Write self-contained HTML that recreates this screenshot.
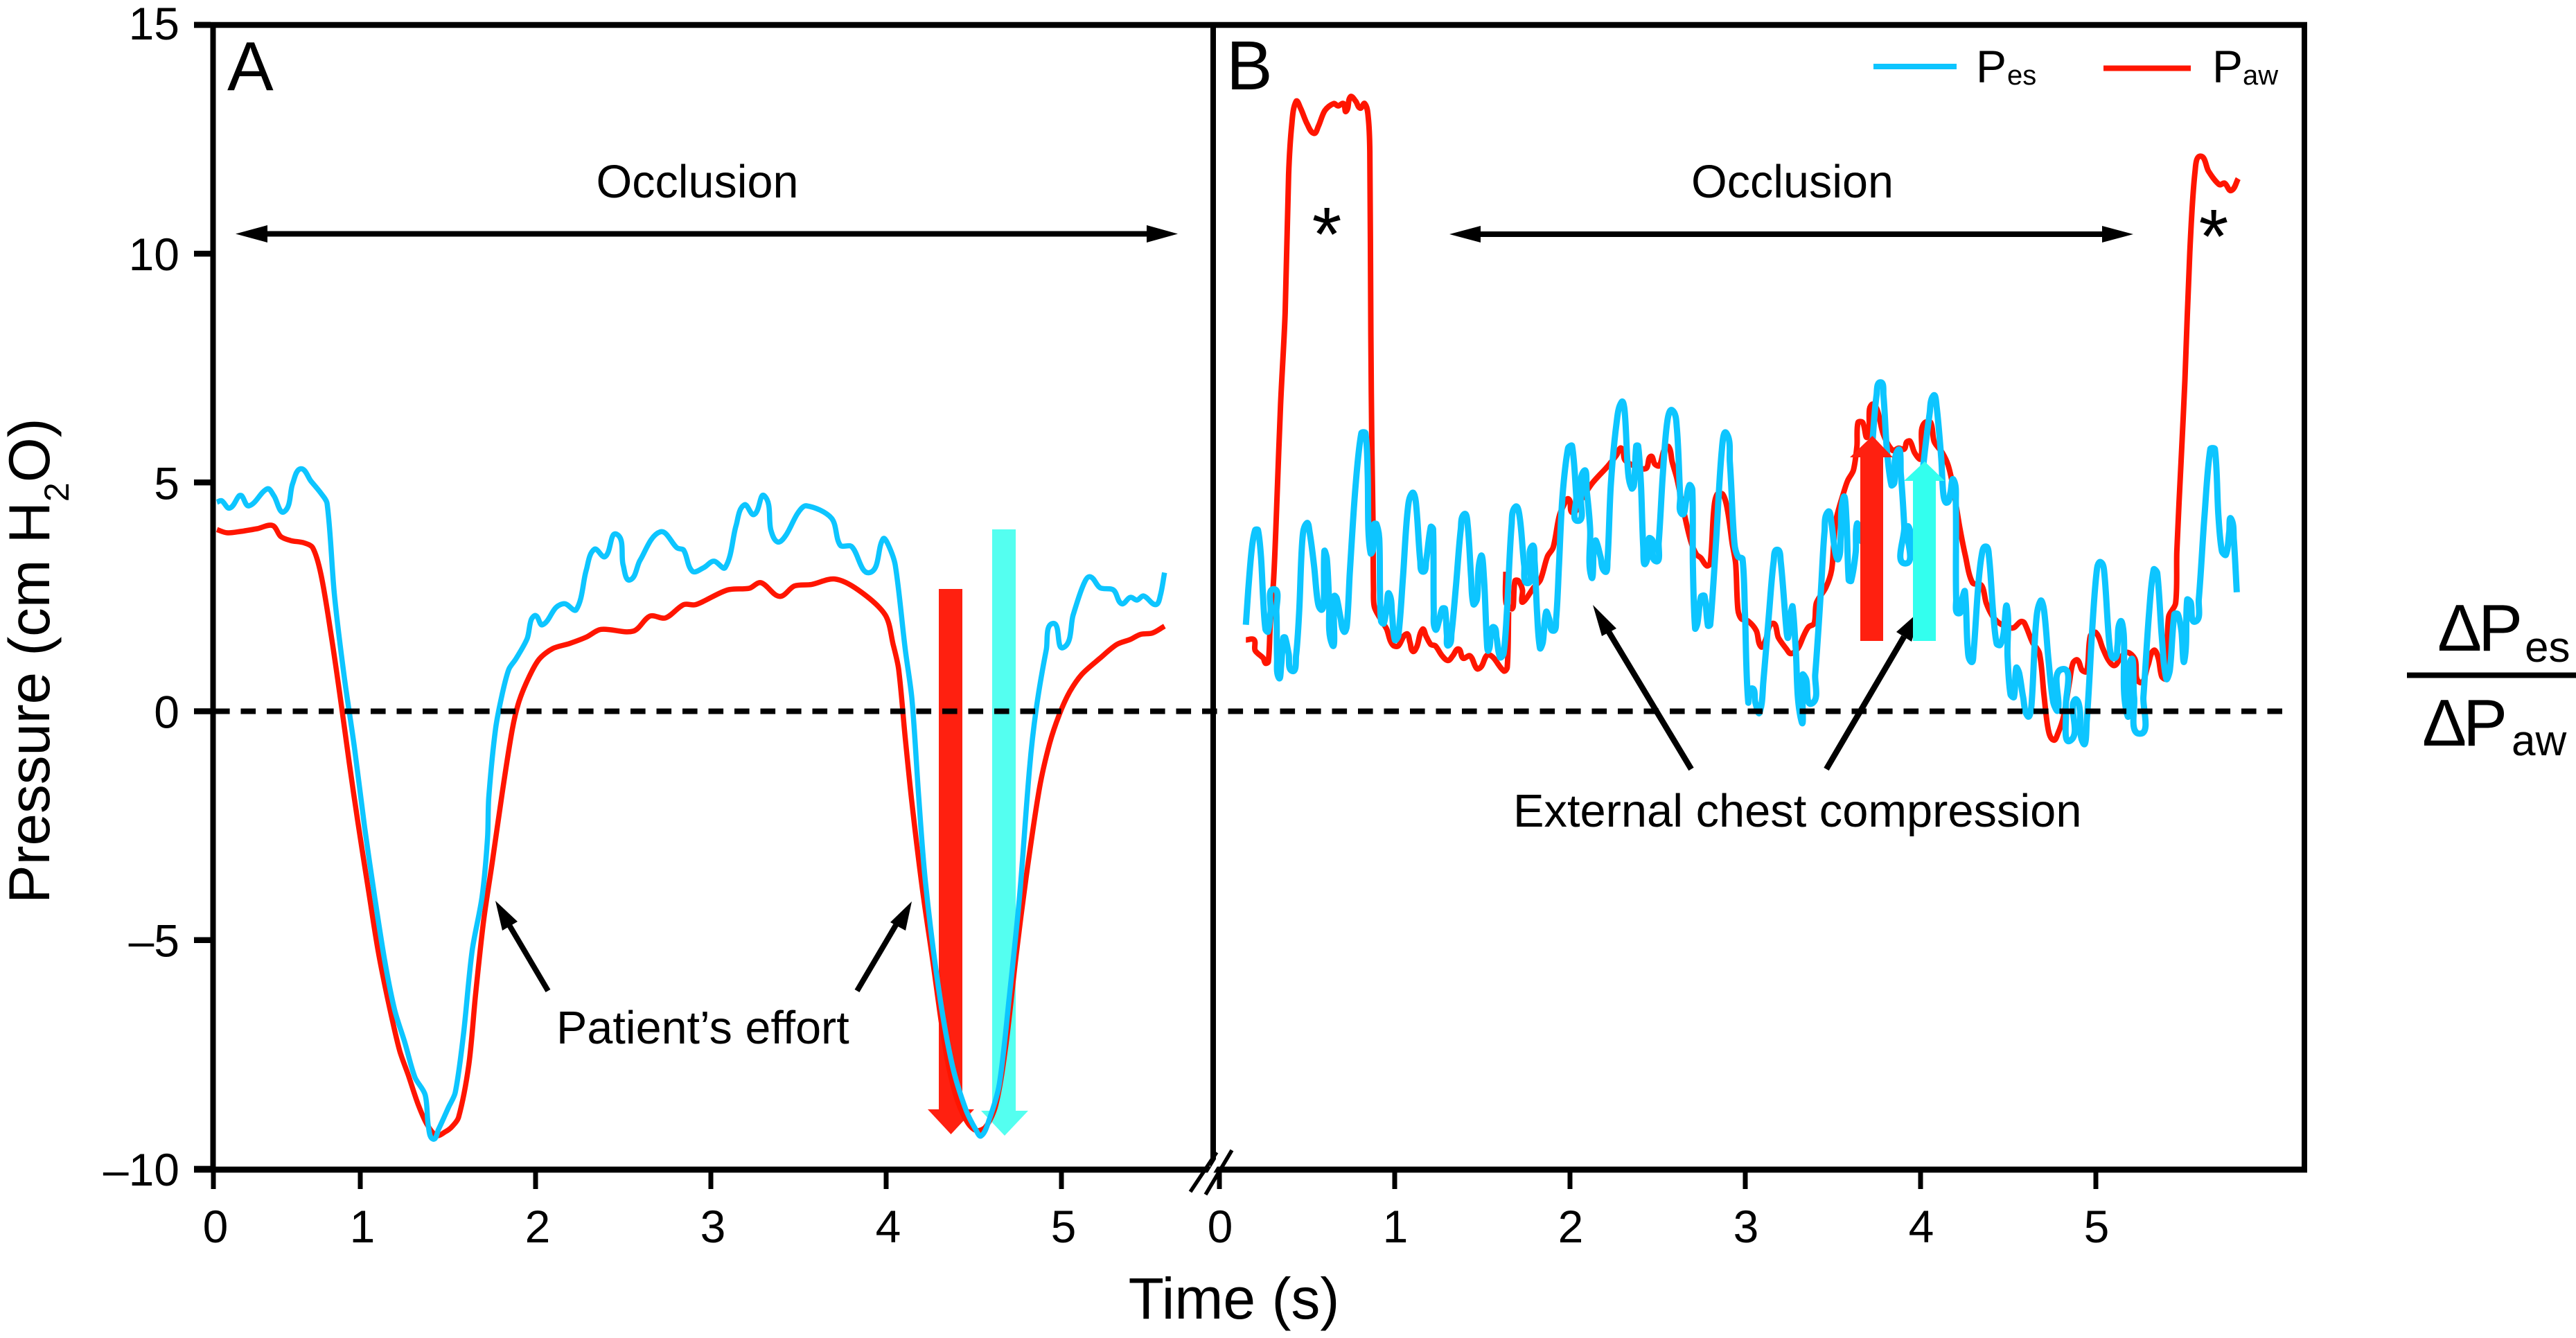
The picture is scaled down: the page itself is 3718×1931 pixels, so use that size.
<!DOCTYPE html>
<html lang="en">
<head>
<meta charset="utf-8">
<title>Pressure traces during occlusion</title>
<style>
html,body{margin:0;padding:0;background:#fff}
svg{display:block}
text{font-family:"Liberation Sans",sans-serif;fill:#000}
</style>
</head>
<body>
<svg id="chart" xmlns="http://www.w3.org/2000/svg" width="3718" height="1931" viewBox="0 0 3718 1931">
<rect x="0" y="0" width="3718" height="1931" fill="#fff"/>

<g id="arrowsA">
<polygon fill="#ff2010" points="1355,850 1389,850 1389,1601 1406,1601 1372.5,1637 1339,1601 1355,1601"/>
<polygon fill="#54fff0" points="1432,764 1466,764 1466,1603 1484,1603 1450,1639 1416,1603 1432,1603"/>
</g>
<g id="seriesA"></g>
<g id="seriesB"></g>
<line id="zeroLine" stroke="#000" stroke-width="8" stroke-dasharray="21.6 15.9"/>

<g>
<g>
<line x1="380" y1="337.5" x2="1660" y2="337.5" stroke="#000" stroke-width="8"/>
<polygon points="340,337.5 386,325 386,350" fill="#000"/>
<polygon points="1700,337.5 1655,325 1655,350" fill="#000"/>
</g>
<g>
<line x1="2130" y1="338" x2="3040" y2="338" stroke="#000" stroke-width="8"/>
<polygon points="2092,338 2137,326 2137,350" fill="#000"/>
<polygon points="3079,338 3034,326 3034,350" fill="#000"/>
</g>
<text x="1006.5" y="285" font-size="66.5" text-anchor="middle">Occlusion</text>
<text x="2587" y="285" font-size="66.5" text-anchor="middle">Occlusion</text>
<text x="803" y="1506" font-size="66.5">Patient’s effort</text>
<g>
<line x1="791" y1="1430" x2="732" y2="1330" stroke="#000" stroke-width="8"/>
<polygon points="715,1300 725,1343 747,1330" fill="#000"/>
</g>
<g>
<line x1="1237" y1="1430" x2="1296" y2="1330" stroke="#000" stroke-width="8"/>
<polygon points="1316,1301 1285,1331 1307,1343" fill="#000"/>
</g>
<text x="2184" y="1193" font-size="66.8">External chest compression</text>
<g>
<line x1="2441" y1="1110" x2="2322" y2="912" stroke="#000" stroke-width="8.5"/>
<polygon points="2299,873 2312,918 2333,907" fill="#000"/>
</g>
<g>
<line x1="2636" y1="1110" x2="2748" y2="919" stroke="#000" stroke-width="8.5"/>
<polygon points="2773,880 2737,912 2759,926" fill="#000"/>
</g>
<text x="1915" y="376" font-size="110" text-anchor="middle">*</text>
<text x="3195" y="379" font-size="110" text-anchor="middle">*</text>
</g>

<g id="arrowsB">
<polygon fill="#ff2010" points="2685,925 2718,925 2718,660 2732,660 2702.5,629 2670,660 2685,660"/>
<polygon fill="#33ffee" points="2761,925 2794,925 2794,694 2807,694 2778,666 2748,694 2761,694"/>
</g>

<g stroke="#000" fill="none">
<line x1="307.5" y1="36" x2="307.5" y2="1692" stroke-width="8"/>
<line x1="280" y1="36" x2="3330" y2="36" stroke-width="8.5"/>
<line x1="280" y1="1688" x2="3330" y2="1688" stroke-width="8.7"/>
<line x1="3326" y1="36" x2="3326" y2="1692" stroke-width="8"/>
<line x1="1751" y1="36" x2="1751" y2="1688" stroke-width="8"/>
</g>
<g id="axes"></g>

<g>
<line x1="1767" y1="1660" x2="1728" y2="1724" stroke="#fff" stroke-width="7"/>
<line x1="1756" y1="1663" x2="1718" y2="1720" stroke="#000" stroke-width="5.5"/>
<line x1="1778" y1="1660" x2="1740" y2="1724" stroke="#000" stroke-width="5.5"/>
</g>

<text x="328" y="130" font-size="100">A</text>
<text x="1770" y="129" font-size="100">B</text>

<g>
<g>
<line x1="2704" y1="96" x2="2824" y2="96" stroke="#0dc5ff" stroke-width="8"/>
<text x="2852" y="118.5" font-size="66">P<tspan x="2897" y="122" font-size="40">es</tspan></text>
</g>
<g>
<line x1="3036" y1="98.5" x2="3162" y2="98.5" stroke="#ff1500" stroke-width="8"/>
<text x="3193" y="118.5" font-size="66">P<tspan x="3237" y="122" font-size="40">aw</tspan></text>
</g>
</g>

<text transform="translate(71,1304) rotate(-90)" font-size="83.5">Pressure (cm H<tspan dy="28" font-size="50">2</tspan><tspan dy="-28">O)</tspan></text>
<text x="1781" y="1903" font-size="84" text-anchor="middle">Time (s)</text>

<g>
<text font-size="96"><tspan x="3518" y="939">Δ</tspan><tspan x="3577" y="939">P</tspan><tspan x="3644" y="955" font-size="62">es</tspan></text>
<line x1="3474" y1="974.5" x2="3718" y2="974.5" stroke="#000" stroke-width="8"/>
<text font-size="96"><tspan x="3496" y="1076">Δ</tspan><tspan x="3555" y="1076">P</tspan><tspan x="3625" y="1090" font-size="62">aw</tspan></text>
</g>
</svg>

<script>
const yTickValues = [15, 10, 5, 0, -5, -10];
const yTickLabels = ["15", "10", "5", "0", "–5", "–10"];
const xTickValues = [0, 1, 2, 3, 4, 5];
const xTickLabels = ["0", "1", "2", "3", "4", "5"];

const panelATimesPes = [.024,.056,.111,.175,.193,.243,.367,.412,.481,.54,.595,.664,.733,.774,.824,.893,.961,1.025,1.082,1.14,1.197,1.255,1.312,1.37,1.389,1.416,1.446,1.504,1.542,1.588,1.638,1.695,1.726,1.733,1.772,1.81,1.848,1.887,1.952,1.975,2.002,2.04,2.117,2.167,2.232,2.289,2.335,2.397,2.462,2.5,2.538,2.596,2.711,2.807,2.845,2.895,2.96,3.017,3.082,3.144,3.19,3.247,3.305,3.343,3.381,3.427,3.496,3.546,3.688,3.738,3.803,3.906,3.983,4.013,4.052,4.109,4.147,4.186,4.224,4.301,4.377,4.454,4.511,4.542,4.588,4.645,4.703,4.761,4.818,4.856,4.914,4.952,5.01,5.067,5.125,5.163,5.22,5.297,5.343,5.393,5.431,5.469,5.538,5.565,5.588];
const panelAPes = [4.57,4.6,4.44,4.71,4.71,4.49,4.86,4.71,4.36,4.98,5.3,5.03,4.76,4.54,2.54,.7,-.81,-2.54,-4.05,-5.46,-6.54,-7.25,-8,-8.38,-9.08,-9.35,-9.14,-8.65,-8.33,-7.08,-5.24,-4.05,-2.76,-1.89,-.38,.38,.92,1.14,1.59,2,2.09,1.89,2.27,2.35,2.22,3.08,3.54,3.38,3.87,3.19,2.87,3.3,3.92,3.57,3.52,3.06,3.14,3.28,3.14,4.06,4.51,4.3,4.71,3.95,3.7,3.84,4.33,4.49,4.22,3.63,3.6,3.03,3.77,3.63,3.19,1.35,.27,-1.89,-3.73,-6.11,-7.73,-8.7,-9.14,-9.28,-8.92,-8.16,-6.22,-4.05,-1.24,.05,1.35,1.92,1.39,2.11,2.76,2.94,2.7,2.65,2.35,2.49,2.43,2.52,2.33,2.54,3.03];

const panelATimesPaw = [.024,.092,.184,.298,.403,.458,.527,.618,.677,.733,.801,.87,.925,.984,1.044,1.102,1.159,1.224,1.274,1.331,1.381,1.435,1.485,1.523,1.561,1.619,1.657,1.703,1.753,1.81,1.868,1.906,1.964,2.021,2.098,2.193,2.289,2.374,2.557,2.653,2.741,2.845,2.914,3.094,3.22,3.285,3.392,3.477,3.573,3.707,3.841,3.994,4.04,4.071,4.109,4.147,4.205,4.262,4.339,4.396,4.454,4.511,4.568,4.626,4.683,4.741,4.799,4.875,4.933,4.99,5.048,5.117,5.22,5.316,5.393,5.45,5.519,5.588];
const panelAPaw = [3.97,3.9,3.93,3.99,4.06,3.82,3.73,3.68,3.57,2.98,1.68,.16,-1.13,-2.43,-3.84,-5.24,-6.33,-7.41,-7.95,-8.6,-9.03,-9.27,-9.19,-9.08,-8.87,-7.73,-6.22,-4.59,-3.3,-1.78,-.38,.22,.76,1.14,1.37,1.48,1.62,1.79,1.75,2.08,2.04,2.33,2.33,2.65,2.69,2.81,2.51,2.74,2.77,2.89,2.65,2.11,1.46,.92,-.59,-2,-3.84,-5.35,-7.41,-8.38,-8.92,-9.16,-9.08,-8.6,-7.3,-5.35,-3.62,-1.67,-.7,-.05,.43,.81,1.16,1.46,1.57,1.68,1.71,1.86];

const panelBTimesPes = [.151,.165,.184,.204,.22,.237,.25,.263,.277,.292,.31,.325,.329,.339,.352,.365,.375,.395,.416,.437,.455,.474,.498,.514,.54,.56,.58,.595,.599,.613,.626,.643,.653,.656,.669,.692,.711,.727,.744,.777,.81,.833,.846,.85,.863,.876,.883,.896,.912,.916,.922,.938,.955,.968,.985,1.001,1.021,1.047,1.074,1.1,1.12,1.146,1.162,1.179,1.206,1.219,1.223,1.232,1.252,1.271,1.287,1.298,1.307,1.324,1.35,1.377,1.397,1.416,1.436,1.449,1.469,1.491,1.509,1.526,1.535,1.548,1.565,1.581,1.601,1.621,1.64,1.667,1.689,1.713,1.739,1.759,1.772,1.783,1.798,1.812,1.829,1.845,1.864,1.881,1.904,1.921,1.937,1.957,1.989,2.012,2.036,2.045,2.062,2.079,2.095,2.115,2.121,2.137,2.148,2.174,2.2,2.214,2.233,2.266,2.295,2.312,2.332,2.352,2.365,2.378,2.389,2.405,2.418,2.431,2.451,2.471,2.49,2.506,2.53,2.556,2.583,2.609,2.629,2.639,2.662,2.681,2.698,2.701,2.714,2.727,2.747,2.767,2.787,2.8,2.833,2.866,2.892,2.912,2.938,2.958,2.984,2.998,3.017,3.037,3.057,3.081,3.103,3.136,3.162,3.182,3.202,3.235,3.244,3.261,3.27,3.287,3.32,3.327,3.347,3.38,3.399,3.432,3.452,3.472,3.492,3.511,3.531,3.544,3.56,3.577,3.59,3.604,3.63,3.637,3.65,3.689,3.729,3.749,3.771,3.788,3.808,3.834,3.85,3.87,3.887,3.907,3.913,3.926,3.953,3.98,4.006,4.052,4.074,4.091,4.118,4.131,4.151,4.17,4.188,4.201,4.203,4.217,4.236,4.253,4.269,4.289,4.302,4.328,4.348,4.371,4.39,4.414,4.434,4.454,4.473,4.493,4.496,4.513,4.533,4.546,4.562,4.585,4.612,4.632,4.658,4.684,4.704,4.73,4.757,4.783,4.809,4.829,4.855,4.869,4.888,4.908,4.928,4.948,4.981,5.007,5.027,5.047,5.08,5.106,5.123,5.139,5.159,5.178,5.198,5.218,5.251,5.271,5.304,5.33,5.35,5.376,5.402,5.422,5.448,5.468,5.488,5.505,5.521,5.541,5.567,5.587,5.62,5.653,5.679,5.699,5.719,5.742,5.761,5.771,5.787,5.804];
const panelBPes = [1.89,2.67,3.53,3.96,3.96,3.38,2.42,1.79,1.74,2.17,2.67,2.17,1.16,.73,1,1.61,1.61,1.26,.88,1.21,2.17,3.78,4.11,3.93,3.18,2.42,2.22,2.32,3.5,3.33,2.42,1.46,2.17,2.52,2.47,2.02,1.74,1.87,3.03,4.94,6.08,6.08,5.2,3.98,3.45,3.53,4.09,4.09,3.78,2.67,1.97,1.92,2.32,2.57,2.12,1.56,1.66,2.92,4.39,4.77,4.59,3.28,3.05,3.28,4.03,3.98,2.17,1.79,1.97,2.24,2.24,1.66,1.44,1.71,2.77,3.98,4.31,4.09,2.92,2.34,2.45,3.38,2.92,1.51,1.33,1.66,1.84,1.61,1.18,1.26,2.17,4.09,4.47,4.24,3.18,2.8,3.18,3.61,3.28,2.17,1.38,1.51,2.17,2.02,1.76,2.02,3.18,4.69,5.75,5.8,4.69,4.16,4.69,5.25,4.84,3.98,2.95,3.68,3.73,3.38,3.05,3.28,4.94,6.31,6.76,6.56,5.2,4.87,4.94,5.8,5.8,4.94,3.58,3.23,3.78,3.73,3.28,3.68,5.2,6.36,6.58,6.21,4.69,4.31,4.59,4.94,4.84,3.18,1.81,1.92,2.5,2.52,1.87,1.89,3.68,5.7,6.08,5.45,3.68,3.38,3.33,2.17,.2,.5,.2,-.03,.65,2.17,3.28,3.53,3.28,1.76,1.61,2.17,2.29,1.41,-.21,.8,.7,.17,.8,2.67,3.93,4.36,4.09,3.53,3.33,3.78,4.67,4.19,2.87,2.85,3.48,4.09,3.78,3.68,6.05,6.91,7.19,6.91,5.7,4.94,4.99,5.7,5.2,4.03,3.23,4.03,3.78,3.4,4.98,6.52,6.9,6.68,5.52,4.72,4.56,4.77,5.06,4.56,2.44,2.14,2.44,2.62,1.37,1.08,1.27,2.7,3.39,3.6,3.39,2.17,1.48,1.45,1.69,2.28,1.21,.37,.31,.95,.84,.31,-.11,.1,1.9,2.41,2.22,1.11,.2,.02,.92,.05,-.64,.15,.26,.05,-.7,-.22,1.9,3.13,3.26,3.07,1.37,1.16,1.43,1.96,1.69,-.06,1.11,.31,-.49,.31,2.17,3.1,3.02,1.64,.71,.9,2.12,2.12,1.75,1.11,2.44,2.38,1.96,2.44,4.29,5.73,5.73,4.29,3.5,3.42,3.92,4.21,3.76,2.6];

const panelBTimesPaw = [.151,.198,.204,.25,.263,.279,.29,.31,.329,.349,.375,.395,.413,.438,.463,.501,.539,.564,.602,.652,.677,.708,.723,.748,.778,.803,.829,.849,.858,.864,.87,.876,.879,.885,.935,.955,.975,.995,1.021,1.067,1.087,1.104,1.126,1.159,1.179,1.206,1.232,1.271,1.304,1.331,1.364,1.39,1.43,1.469,1.495,1.528,1.561,1.623,1.642,1.65,null,1.634,1.635,1.667,1.676,1.686,1.706,1.729,1.726,1.746,1.792,1.831,1.871,1.904,1.937,1.963,1.992,2.016,2.06,2.128,2.214,2.266,2.293,2.312,2.345,2.411,2.438,2.461,2.484,2.51,2.536,2.563,2.583,2.609,2.648,2.688,2.721,2.747,2.78,2.8,2.82,2.839,2.872,2.899,2.925,2.945,2.958,2.978,3.017,3.063,3.09,3.116,3.156,3.189,3.235,3.261,3.301,3.334,3.36,3.393,3.406,3.459,3.492,3.505,3.518,3.558,3.584,3.617,3.637,3.643,3.67,3.696,3.709,3.729,3.755,3.788,3.841,3.874,3.907,3.92,3.94,3.966,4,4.006,4.025,4.058,4.078,4.124,4.157,4.184,4.223,4.256,4.296,4.348,4.375,4.414,4.46,4.526,4.572,4.592,4.638,4.678,4.704,4.73,4.759,4.783,4.816,4.849,4.869,4.895,4.921,4.948,4.968,5,5.04,5.073,5.106,5.139,5.178,5.224,5.251,5.297,5.33,5.356,5.376,5.402,5.415,5.455,5.462,5.488,5.508,5.536,5.566,5.597,5.643,5.704,5.735,5.772,5.812];
const panelBPaw = [1.56,1.56,1.33,1.16,1.05,1.08,1.91,2.92,4.69,6.71,8.71,11.73,12.83,13.33,13.18,12.83,12.63,12.78,13.13,13.28,13.23,13.28,13.11,13.43,13.33,13.18,13.28,12.98,12.23,8.21,5.7,4.19,2.67,2.27,1.92,1.79,1.54,1.43,1.43,1.69,1.51,1.31,1.41,1.79,1.64,1.46,1.43,1.21,1.11,1.21,1.36,1.16,1.21,.93,.98,1.23,1.18,.88,.96,2.17,null,3.05,2.37,2.24,2.29,2.85,2.85,2.65,2.39,2.44,2.7,2.87,3.38,3.58,4.24,4.49,4.64,4.34,4.6,4.99,5.35,5.6,5.75,5.5,5.4,5.3,5.32,5.57,5.4,5.37,5.7,5.78,5.45,5.1,4.39,3.73,3.43,3.35,3.18,3.23,4.39,4.74,4.74,4.39,3.68,3.23,2.22,2.02,1.97,1.76,1.41,1.56,1.92,1.61,1.36,1.26,1.38,1.66,1.84,1.92,2.37,2.7,3.08,3.68,4.19,4.74,5.04,5.27,5.8,6.31,6.31,6,6.61,6.71,6.56,6.05,5.7,5.75,5.73,5.88,5.9,5.65,5.52,6.15,6.31,6.31,5.89,5.65,5.38,4.93,4.03,3.39,2.81,2.75,2.36,2.06,1.9,1.82,1.96,1.93,1.51,1.27,.36,-.43,-.63,-.49,-.11,.63,1.05,1.12,.9,.87,1.64,1.72,1.37,1.11,1,1.16,1.29,1.13,.63,1,1.33,1.16,.76,.71,2.06,2.36,3.5,5.62,7.22,10.03,11.8,12.13,11.8,11.51,11.54,11.38,11.64];

const SVG_NS = "http://www.w3.org/2000/svg";
const yPx = v => 1026.5 - 66.04 * v;
const xA = t => t < 1 ? 308 + 212 * t : 520 + 253 * (t - 1);
const xB = t => 1760 + 253 * t;

function splinePath(pts) {
  let d = "M" + pts[0][0].toFixed(1) + " " + pts[0][1].toFixed(1);
  for (let i = 0; i < pts.length - 1; i++) {
    const p0 = pts[Math.max(i - 1, 0)], p1 = pts[i], p2 = pts[i + 1], p3 = pts[Math.min(i + 2, pts.length - 1)];
    const seg = Math.hypot(p2[0] - p1[0], p2[1] - p1[1]);
    const n1 = Math.hypot(p2[0] - p0[0], p2[1] - p0[1]) || 1;
    const n2 = Math.hypot(p3[0] - p1[0], p3[1] - p1[1]) || 1;
    const k = 0.3 * seg;
    const c1x = p1[0] + (p2[0] - p0[0]) / n1 * k, c1y = p1[1] + (p2[1] - p0[1]) / n1 * k;
    const c2x = p2[0] - (p3[0] - p1[0]) / n2 * k, c2y = p2[1] - (p3[1] - p1[1]) / n2 * k;
    d += "C" + c1x.toFixed(1) + " " + c1y.toFixed(1) + " " + c2x.toFixed(1) + " " + c2y.toFixed(1) + " " + p2[0].toFixed(1) + " " + p2[1].toFixed(1);
  }
  return d;
}

function seriesPath(times, values, xScale) {
  let d = "", run = [];
  times.forEach((t, i) => {
    if (t === null || values[i] === null) {
      if (run.length > 1) d += splinePath(run);
      run = [];
    } else {
      run.push([xScale(t), yPx(values[i])]);
    }
  });
  if (run.length > 1) d += splinePath(run);
  return d;
}

function drawLine(group, times, values, xScale, color, width, name) {
  const path = document.createElementNS(SVG_NS, "path");
  path.setAttribute("d", seriesPath(times, values, xScale));
  path.setAttribute("fill", "none");
  path.setAttribute("stroke", color);
  path.setAttribute("stroke-width", width);
  path.setAttribute("stroke-linejoin", "round");
  
  
  group.appendChild(path);
}

const groupA = document.getElementById("seriesA");
const groupB = document.getElementById("seriesB");
drawLine(groupA, panelATimesPaw, panelAPaw, xA, "#ff1500", 7.5, "panel-a-paw-line");
drawLine(groupA, panelATimesPes, panelAPes, xA, "#0dc5ff", 7.5, "panel-a-pes-line");
drawLine(groupB, panelBTimesPaw, panelBPaw, xB, "#ff1500", 8, "panel-b-paw-line");
drawLine(groupB, panelBTimesPes, panelBPes, xB, "#0dc5ff", 9, "panel-b-pes-line");

const zero = document.getElementById("zeroLine");
zero.setAttribute("x1", 310);
zero.setAttribute("x2", 3294);
zero.setAttribute("y1", yPx(0));
zero.setAttribute("y2", yPx(0));

const axes = document.getElementById("axes");

function addTick(x1, y1, x2, y2, w) {
  const tick = document.createElementNS(SVG_NS, "line");
  tick.setAttribute("x1", x1);
  tick.setAttribute("y1", y1);
  tick.setAttribute("x2", x2);
  tick.setAttribute("y2", y2);
  tick.setAttribute("stroke", "#000");
  tick.setAttribute("stroke-width", w);
  
  
  axes.appendChild(tick);
}

function addLabel(x, y, anchor, str) {
  const label = document.createElementNS(SVG_NS, "text");
  label.setAttribute("x", x);
  label.setAttribute("y", y);
  label.setAttribute("font-size", 66);
  label.setAttribute("text-anchor", anchor);
  label.textContent = str;
  
  
  axes.appendChild(label);
}

yTickValues.forEach((v, i) => {
  addTick(280, yPx(v), 304, yPx(v), 8.5);
  addLabel(259, yPx(v) + (i === 0 ? 21 : 24), "end", yTickLabels[i]);
});
xTickValues.forEach((t, i) => {
  addTick(xA(t), 1690, xA(t), 1716, 7);
  addLabel(xA(t) + 3, 1793, "middle", xTickLabels[i]);
  addTick(xB(t), 1690, xB(t), 1716, 7);
  addLabel(xB(t) + 1, 1793, "middle", xTickLabels[i]);
});
</script>
</body>
</html>
